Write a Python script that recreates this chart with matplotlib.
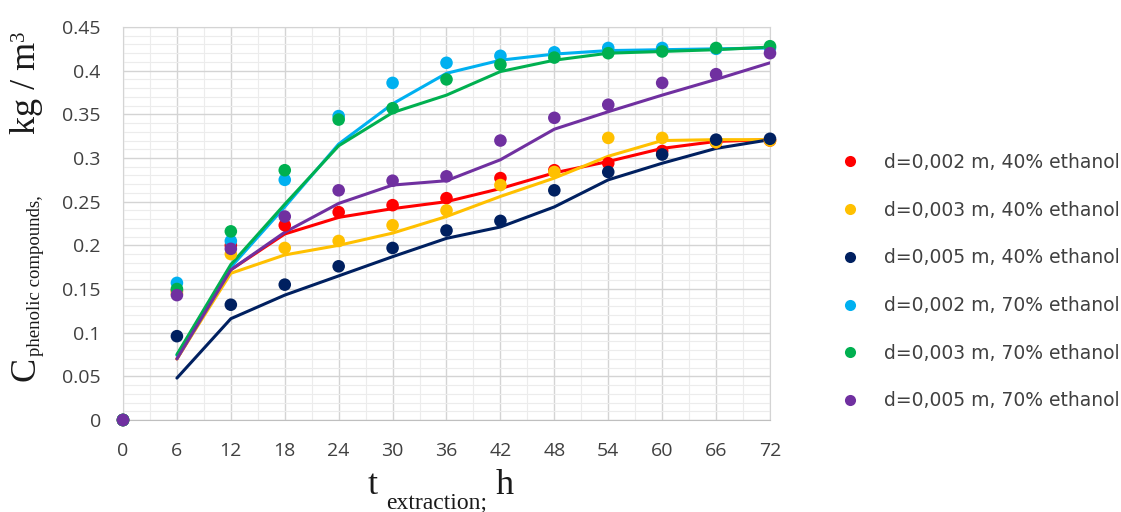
import matplotlib
matplotlib.use("Agg")
import matplotlib.pyplot as plt
from matplotlib.ticker import MultipleLocator
from matplotlib.lines import Line2D

# Extraction time, h
t_points = [0, 6, 12, 18, 24, 30, 36, 42, 48, 54, 60, 66, 72]
t_model = [6, 12, 18, 24, 30, 36, 42, 48, 54, 60, 66, 72]

labels = [
    "d=0,002 m, 40% ethanol",
    "d=0,003 m, 40% ethanol",
    "d=0,005 m, 40% ethanol",
    "d=0,002 m, 70% ethanol",
    "d=0,003 m, 70% ethanol",
    "d=0,005 m, 70% ethanol",
]
colors = ["#FF0000", "#FFC000", "#002060", "#00B0F0", "#00B050", "#7030A0"]

# Measured concentration of phenolic compounds, kg/m3
exp_d002_40 = [0, 0.148, 0.200, 0.223, 0.238, 0.246, 0.254, 0.277, 0.286, 0.294, 0.308, 0.318, 0.320]
exp_d003_40 = [0, 0.145, 0.190, 0.197, 0.205, 0.223, 0.240, 0.269, 0.284, 0.323, 0.323, 0.318, 0.320]
exp_d005_40 = [0, 0.096, 0.132, 0.155, 0.176, 0.197, 0.217, 0.228, 0.263, 0.284, 0.304, 0.321, 0.322]
exp_d002_70 = [0, 0.157, 0.205, 0.275, 0.348, 0.386, 0.409, 0.417, 0.421, 0.426, 0.426, 0.425, 0.426]
exp_d003_70 = [0, 0.150, 0.216, 0.286, 0.344, 0.357, 0.390, 0.407, 0.415, 0.420, 0.422, 0.426, 0.428]
exp_d005_70 = [0, 0.143, 0.196, 0.233, 0.263, 0.274, 0.279, 0.320, 0.346, 0.361, 0.386, 0.396, 0.420]

# Calculated (model) concentration, kg/m3
mod_d002_40 = [0.070, 0.172, 0.213, 0.232, 0.242, 0.250, 0.265, 0.283, 0.296, 0.311, 0.319, 0.321]
mod_d003_40 = [0.070, 0.168, 0.189, 0.200, 0.214, 0.233, 0.256, 0.277, 0.302, 0.320, 0.321, 0.321]
mod_d005_40 = [0.048, 0.116, 0.143, 0.165, 0.187, 0.208, 0.221, 0.244, 0.275, 0.294, 0.311, 0.321]
mod_d002_70 = [0.074, 0.175, 0.244, 0.316, 0.362, 0.397, 0.412, 0.419, 0.423, 0.424, 0.425, 0.426]
mod_d003_70 = [0.075, 0.178, 0.247, 0.314, 0.352, 0.372, 0.399, 0.412, 0.420, 0.422, 0.424, 0.427]
mod_d005_70 = [0.070, 0.172, 0.215, 0.248, 0.269, 0.274, 0.298, 0.333, 0.353, 0.372, 0.390, 0.409]

exp_series = [exp_d002_40, exp_d003_40, exp_d005_40, exp_d002_70, exp_d003_70, exp_d005_70]
mod_series = [mod_d002_40, mod_d003_40, mod_d005_40, mod_d002_70, mod_d003_70, mod_d005_70]

W, H = 1121, 512
fig = plt.figure(figsize=(W / 100, H / 100), dpi=100)
ax = fig.add_axes([123 / W, (H - 420) / H, (770 - 123) / W, (420 - 27) / H])

for ys, c in zip(mod_series, colors):
    ax.plot(t_model, ys, color=c, lw=2.2, solid_capstyle="round",
            solid_joinstyle="round", zorder=3)
for ys, c, lab in zip(exp_series, colors, labels):
    ax.scatter(t_points, ys, s=82, color=c, edgecolors="none", zorder=4,
               clip_on=False, label=lab)

ax.set_xlim(0, 72)
ax.set_ylim(0, 0.45)
ax.xaxis.set_major_locator(MultipleLocator(6))
ax.xaxis.set_minor_locator(MultipleLocator(3))
ax.yaxis.set_minor_locator(MultipleLocator(0.01))
ax.set_yticks([0, 0.05, 0.1, 0.15, 0.2, 0.25, 0.3, 0.35, 0.4, 0.45])
ax.set_yticklabels(["0", "0.05", "0.1", "0.15", "0.2", "0.25", "0.3", "0.35", "0.4", "0.45"])
ax.grid(which="major", color="#d4d4d4", lw=1.0, zorder=0)
ax.grid(which="minor", color="#ececec", lw=0.8, zorder=0)
ax.set_axisbelow(True)
for side in ("top", "right", "left"):
    ax.spines[side].set_color("#d4d4d4")
ax.spines["bottom"].set_color("#bfbfbf")
ax.tick_params(which="both", length=0)
ax.tick_params(axis="x", pad=16, labelsize=14, labelcolor="#404040")
ax.tick_params(axis="y", pad=16, labelsize=14, labelcolor="#404040")
for lbl in ax.get_xticklabels() + ax.get_yticklabels():
    lbl.set_family("Open Sans")

# Legend with dot markers only
handles = [Line2D([], [], ls="none", marker="o", ms=8, color=c, markeredgewidth=0)
           for c in colors]
fig.legend(handles, labels, loc="upper left",
           bbox_to_anchor=(841 / W, 1 - 153 / H), frameon=False,
           borderaxespad=0, borderpad=0, handlelength=1.0, handletextpad=1.3,
           labelspacing=1.53, prop={"family": "DejaVu Sans", "size": 13.5},
           labelcolor="#404040")

# Axis titles built from main text and smaller subscript / superscript parts
serif = "Liberation Serif"
fig.canvas.draw()
renderer = fig.canvas.get_renderer()


def put(x, y, s, size, rot):
    txt = fig.text(x / W, y / H, s, fontsize=size, family=serif, rotation=rot,
                   rotation_mode="anchor", ha="left", va="baseline", color="#1a1a1a")
    return txt.get_window_extent(renderer)


# vertical title: reads bottom to top
bb = put(35, H - 381, "C", 26, 90)
bb = put(40, bb.y1 + 1, "phenolic compounds,", 13.5, 90)
bb = put(35, H - 134, "kg / m", 26, 90)
put(24, bb.y1 + 1, "3", 15, 90)

# horizontal title
bb = put(368, H - 494, "t", 26, 0)
bb = put(bb.x1 + 8, H - 508, "extraction;", 17, 0)
put(bb.x1 + 9, H - 494, "h", 26, 0)

fig.savefig("out.png", dpi=100)
